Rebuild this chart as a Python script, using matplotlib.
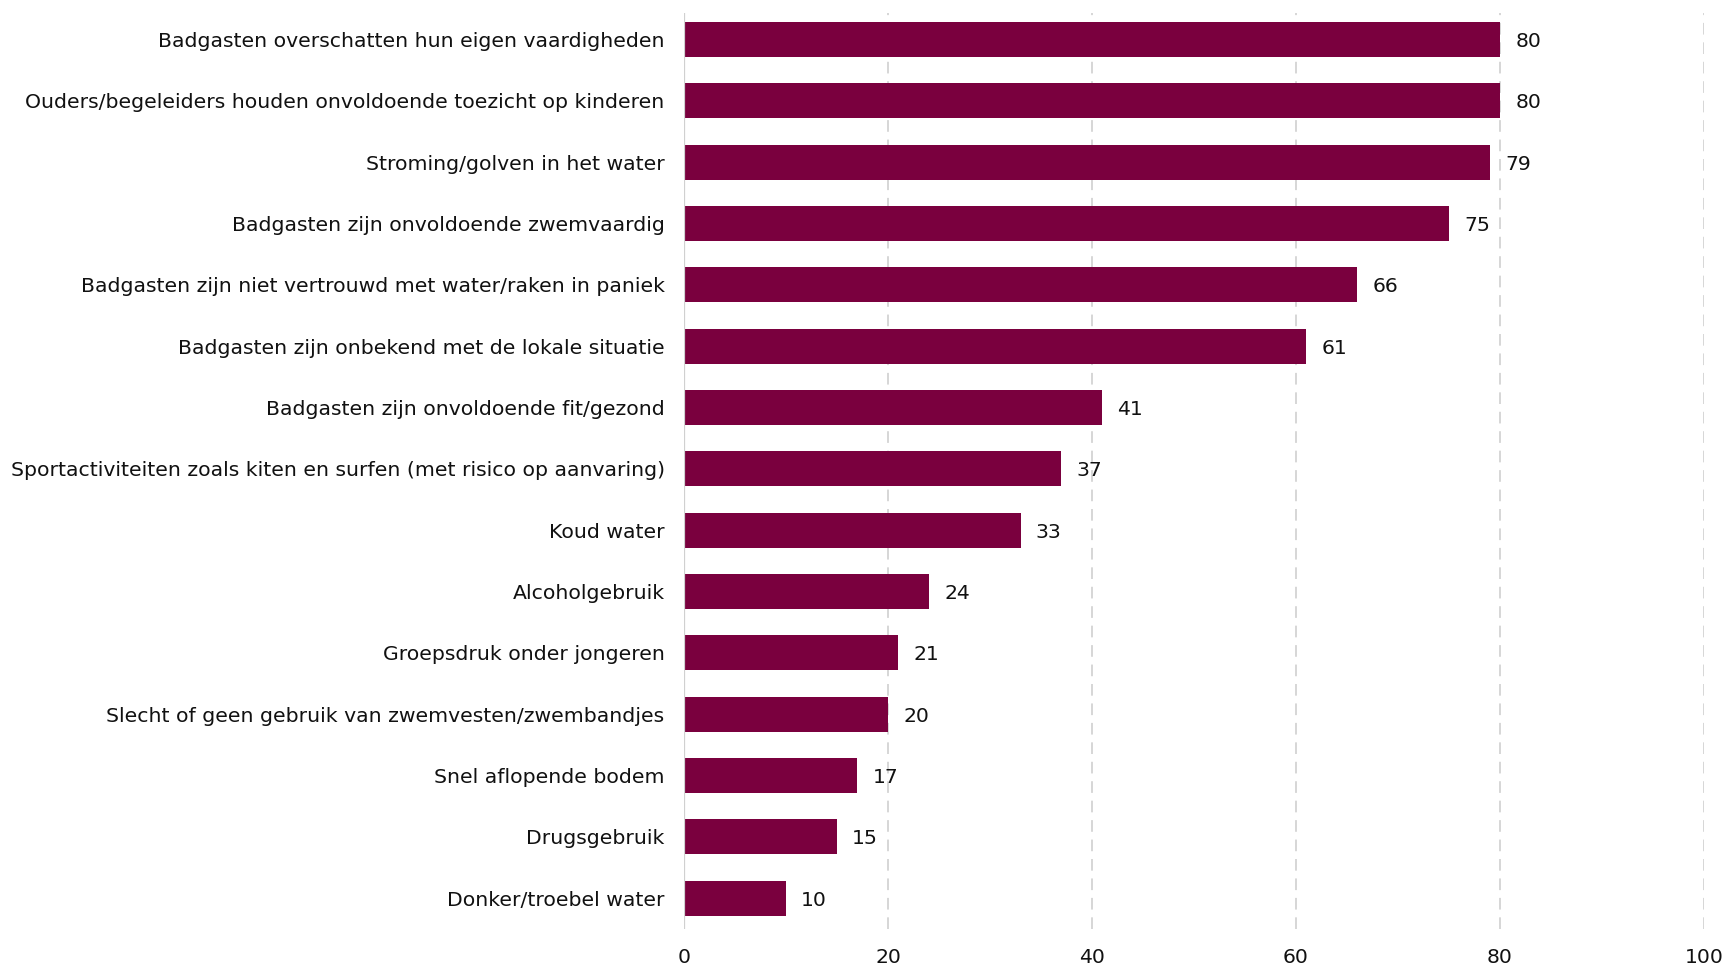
import matplotlib

matplotlib.use("Agg")
import matplotlib.pyplot as plt

categories = [
    "Badgasten overschatten hun eigen vaardigheden",
    "Ouders/begeleiders houden onvoldoende toezicht op kinderen",
    "Stroming/golven in het water",
    "Badgasten zijn onvoldoende zwemvaardig",
    "Badgasten zijn niet vertrouwd met water/raken in paniek",
    "Badgasten zijn onbekend met de lokale situatie",
    "Badgasten zijn onvoldoende fit/gezond",
    "Sportactiviteiten zoals kiten en surfen (met risico op aanvaring)",
    "Koud water",
    "Alcoholgebruik",
    "Groepsdruk onder jongeren",
    "Slecht of geen gebruik van zwemvesten/zwembandjes",
    "Snel aflopende bodem",
    "Drugsgebruik",
    "Donker/troebel water",
]
values = [80, 80, 79, 75, 66, 61, 41, 37, 33, 24, 21, 20, 17, 15, 10]
xticks = [0, 20, 40, 60, 80, 100]

BAR = "#7a003e"
FONT = "DejaVu Sans"
FS = 14.7

fig = plt.figure(figsize=(17.25, 9.66), dpi=100)
ax = fig.add_axes([0.3965, 0.0383, 0.5913, 0.9482])

pos = list(range(len(categories)))
ax.barh(pos, values, height=0.57, color=BAR, zorder=3)

for y, v in zip(pos, values):
    ax.annotate(str(v), (v, y), xytext=(11, 0), textcoords="offset points",
                va="center_baseline", ha="left", fontsize=FS, family=FONT, color="#111111")

ax.set_xlim(0, 100)
ax.set_ylim(14.5, -0.43)
ax.set_xticks(xticks)
ax.set_yticks(pos)
ax.set_yticklabels(categories)
ax.tick_params(axis="both", length=0, labelsize=FS, colors="#111111")
ax.tick_params(axis="y", pad=14)
ax.tick_params(axis="x", pad=14)
for lab in ax.get_xticklabels() + ax.get_yticklabels():
    lab.set_family(FONT)

for x in xticks[1:]:
    ax.axvline(x, color="#d6d6d6", linewidth=1.4, linestyle=(0, (6, 4)), zorder=1)
ax.axvline(0, color="#d0d0d0", linewidth=1.6, zorder=4)

for s in ax.spines.values():
    s.set_visible(False)

fig.savefig("out.png", dpi=100)
plt.close(fig)
